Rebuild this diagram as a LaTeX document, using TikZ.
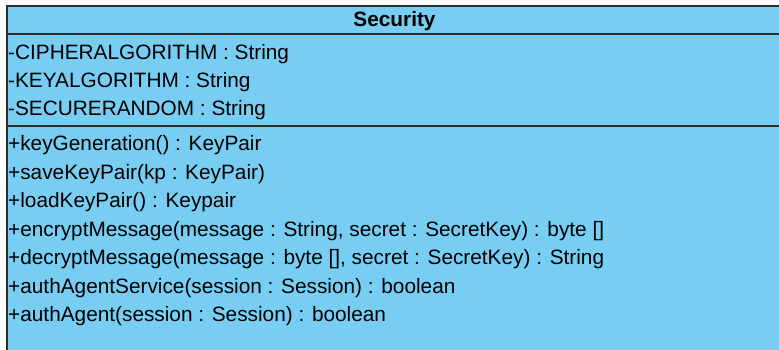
\documentclass[tikz,border=0pt]{standalone}
\usepackage{fontspec}
\setmainfont{Liberation Sans}
\definecolor{classfill}{RGB}{120,206,242}
\definecolor{classline}{RGB}{45,45,45}
\begin{document}
\begin{tikzpicture}[x=1pt,y=-1pt,
  member/.style={anchor=base west,inner sep=0pt,font=\fontsize{20.8}{25}\selectfont},
  title/.style={anchor=base,inner sep=0pt,font=\fontsize{20.8}{25}\selectfont\bfseries},
  rule/.style={draw=classline,line width=1.4pt}]
\useasboundingbox (0,0) rectangle (779,349);
\clip (0,0) rectangle (779,349);
% class body
\fill[classfill] (7,6) rectangle (790,360);
\draw[rule] (790,6) -- (7,6) -- (7,360);
\draw[rule] (7,34) -- (790,34);
\draw[rule] (7,126) -- (790,126);
% class name
\node[title] (name) at (394.5,26.7) {Security};
% attributes
\node[member] (a1) at (8,59.3) {-CIPHERALGORITHM : String};
\node[member] (a2) at (8,87.5) {-KEYALGORITHM : String};
\node[member] (a3) at (8,115.5) {-SECURERANDOM : String};
% operations
\node[member] (m1) at (8,150.7) {+keyGeneration() : KeyPair};
\node[member] (m2) at (8,179.2) {+saveKeyPair(kp : KeyPair)};
\node[member] (m3) at (8,207.7) {+loadKeyPair() : Keypair};
\node[member] (m4) at (8,236.4) {+encryptMessage(message : String, secret : SecretKey) : byte []};
\node[member] (m5) at (8,264.7) {+decryptMessage(message : byte [], secret : SecretKey) : String};
\node[member] (m6) at (8,293.2) {+authAgentService(session : Session) : boolean};
\node[member] (m7) at (8,321.7) {+authAgent(session : Session) : boolean};
\end{tikzpicture}
\end{document}
